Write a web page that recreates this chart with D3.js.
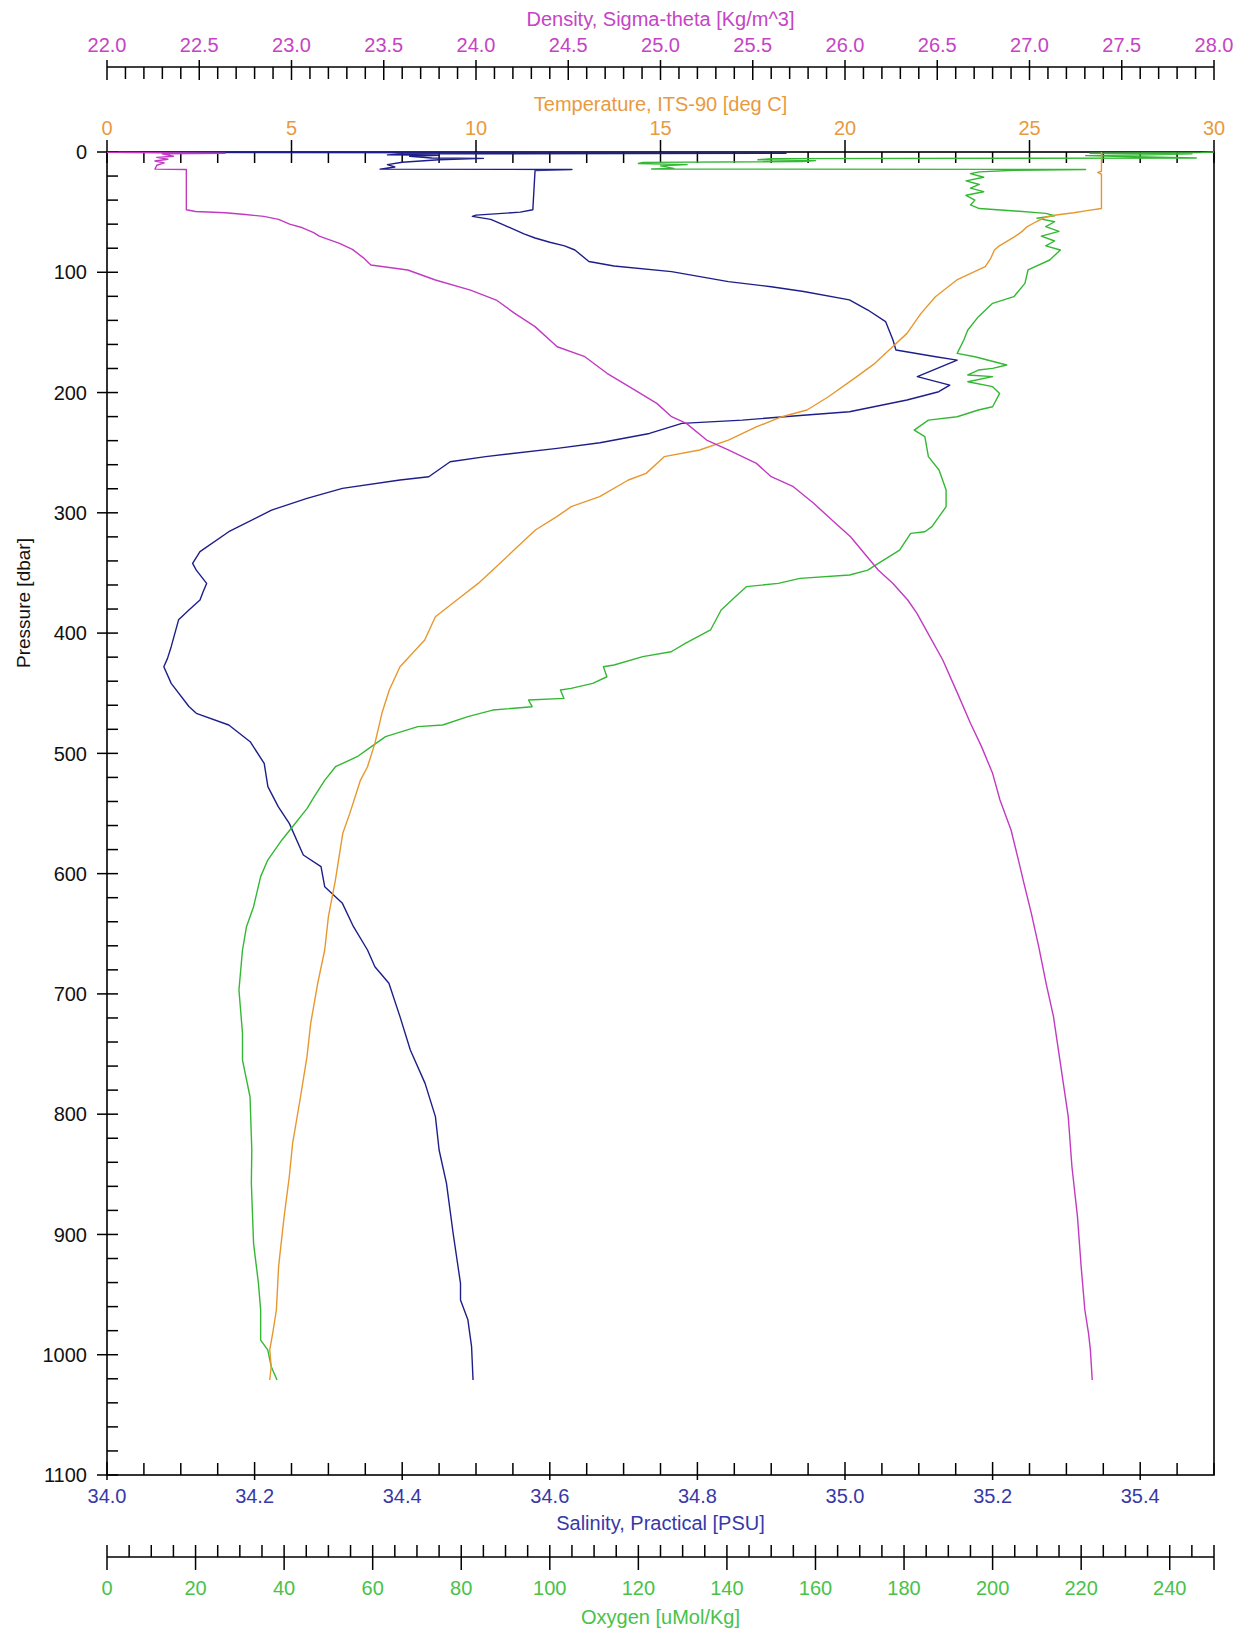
<!DOCTYPE html>
<html><head><meta charset="utf-8">
<script src="https://cdn.jsdelivr.net/npm/d3@7"></script>
<style>
body{margin:0;background:#fff;}
svg{display:block;}
text{font-family:"Liberation Sans",Arial,sans-serif;}
</style></head><body>
<svg id="c" width="1249" height="1630"></svg>
<script>
// ---------- tick labels ----------
const pressureTicks = d3.range(0, 1101, 100);
const densityTicks = d3.range(0, 13).map(i => 22 + i * 0.5);
const temperatureTicks = d3.range(0, 31, 5);
const salinityTicks = d3.range(0, 8).map(i => 34 + i * 0.2);
const oxygenTicks = d3.range(0, 241, 20);

// ---------- profiles [pressure dbar, value] ----------
const salinity = [[0.3,34.00],[1.0,34.92],[1.6,34.40],[2.4,34.38],[2.8,34.45],[3.6,34.41],[5.0,34.44],[5.3,34.51],[6.5,34.45],[8.5,34.40],[10.5,34.38],[12.5,34.39],[14.2,34.37],[14.6,34.63],[15.5,34.58],[48,34.577],[50,34.56],[52.5,34.50],[53.5,34.495],[56,34.52],[60,34.535],[64.5,34.552],[68,34.565],[71.5,34.58],[75,34.60],[78,34.62],[81.5,34.634],[91,34.653],[94.8,34.687],[99.5,34.765],[107.8,34.842],[112,34.90],[116,34.944],[123,35.006],[131.4,35.031],[141,35.055],[156.3,35.065],[164.6,35.069],[170.2,35.123],[173,35.152],[186.8,35.098],[193.8,35.142],[199.3,35.127],[206.2,35.084],[216,35.006],[218.7,34.948],[222.9,34.861],[225.6,34.779],[234,34.735],[241.7,34.668],[246.4,34.61],[253.3,34.513],[257.5,34.465],[270,34.436],[272.7,34.397],[279.7,34.319],[288,34.271],[297.7,34.223],[315.7,34.165],[332.3,34.126],[342,34.116],[347.6,34.121],[358.7,34.135],[366,34.13],[372.5,34.126],[380.8,34.111],[389,34.097],[411.3,34.087],[421,34.082],[428,34.077],[441.8,34.087],[461,34.111],[466.7,34.121],[476.4,34.165],[490.3,34.194],[508.3,34.213],[527.7,34.218],[544.3,34.232],[558.2,34.247],[584.5,34.266],[594.2,34.29],[610.9,34.295],[624.7,34.319],[644.1,34.334],[663.5,34.353],[677.4,34.363],[691.2,34.382],[718.9,34.397],[746.6,34.411],[774.4,34.431],[802,34.445],[829.8,34.45],[857.5,34.46],[899,34.469],[940.7,34.479],[954.5,34.479],[971,34.489],[993.3,34.494],[1021,34.496]];

const temperature = [[0,26.95],[16,26.95],[17,26.85],[18.5,26.95],[47,26.95],[48.5,26.6],[50.5,26.2],[52.4,25.72],[54,25.45],[58,25.18],[62,24.94],[66,24.8],[70.4,24.6],[78.7,24.15],[81.5,24.05],[88.4,23.95],[95.4,23.8],[106.4,23.03],[120.3,22.45],[134.2,22.06],[150.8,21.68],[161.9,21.29],[175.7,20.81],[186.8,20.32],[203.5,19.55],[214.5,18.97],[220.1,18.29],[228.4,17.61],[239.5,16.84],[247.8,16.06],[253.3,15.1],[267.2,14.61],[272.7,14.13],[286.6,13.35],[294.9,12.58],[303.2,12.19],[314.3,11.61],[331,11.03],[344.8,10.55],[358.7,10.06],[372.5,9.48],[386.4,8.9],[405.8,8.61],[428,7.94],[447.3,7.65],[466.7,7.45],[491.7,7.26],[511.1,7.06],[522.2,6.87],[549.9,6.58],[566.5,6.39],[585.9,6.29],[605.3,6.19],[635.8,6.0],[663.5,5.9],[691.2,5.71],[724.5,5.52],[752.2,5.42],[788.2,5.23],[824.3,5.03],[852,4.94],[885.2,4.8],[926.8,4.65],[962.8,4.59],[982.2,4.49],[996,4.41],[1010,4.45],[1021,4.41]];

const density = [[0.3,22.0],[1.0,22.64],[1.6,22.30],[2.5,22.33],[3.5,22.36],[4.5,22.27],[6,22.33],[7.5,22.26],[9,22.31],[11,22.27],[14.2,22.26],[14.6,22.43],[48,22.43],[49.5,22.48],[50.5,22.64],[52,22.75],[53.5,22.85],[56,22.93],[60,22.99],[63,23.06],[67,23.12],[70,23.15],[76,23.26],[81,23.33],[88,23.39],[94,23.43],[98.1,23.63],[106.4,23.78],[114.8,23.97],[123.1,24.11],[134.2,24.21],[145.2,24.32],[161.9,24.44],[170.2,24.59],[184,24.71],[195.1,24.83],[209,24.98],[220.1,25.06],[225.6,25.14],[239.5,25.25],[247.8,25.37],[258.9,25.52],[270,25.6],[278.3,25.72],[292.1,25.83],[308.8,25.95],[319.9,26.03],[336.5,26.12],[347.6,26.18],[358.7,26.26],[372.5,26.34],[383.6,26.39],[400.2,26.45],[422.4,26.53],[450.1,26.61],[475,26.68],[494.4,26.74],[516.6,26.8],[538.8,26.84],[563.7,26.9],[588.7,26.94],[608.1,26.97],[633,27.01],[660.7,27.05],[691.2,27.09],[718.9,27.13],[760.5,27.17],[802.1,27.21],[843.7,27.23],[885.2,27.26],[926.8,27.28],[962.8,27.30],[982.2,27.32],[996,27.33],[1021,27.34]];

const oxygen = [[0,250],[0.5,247],[1.0,222],[1.6,245],[2.4,236],[3.0,221],[4.0,232],[5.0,246],[5.5,150],[6.5,147],[7.2,160],[8.0,157],[8.6,121],[9.6,120],[10.5,131],[11.5,125],[13.6,128],[14.1,123],[14.5,221],[15.2,205],[16.5,197],[18,195],[21,198],[24,194],[27,197],[30,195],[33,198],[36,194],[40,196],[44,195],[47,197],[49,205],[51,212],[53,214],[55,210],[58,214],[62,212],[66,215],[70,211],[74,214],[78,212],[81.5,215.3],[89.8,212.9],[98.1,208],[109.2,207.3],[120.3,204.8],[125.8,200],[136.9,196.8],[148,194.4],[156.3,193.5],[167.4,192],[170.2,196],[177.1,203.2],[179.9,200],[181.3,196.8],[185.4,194.4],[186.8,200],[191,194.4],[195.1,200],[200.7,201.6],[211.8,200],[214.5,196.8],[220.1,192],[222.9,185.5],[231.2,182.3],[236.7,184.7],[253.3,185.5],[264.4,187.9],[281.1,189.5],[294.9,189.5],[303.2,187.9],[311.5,186.3],[315.7,184.7],[317.1,181.5],[331,179],[342,174.2],[347.6,171.8],[351.7,167.7],[354.5,156.5],[358.7,151.6],[361.4,144.4],[369.7,141.9],[380.8,138.7],[397.4,136.3],[408.5,130.6],[415.5,127.4],[419.6,121],[426.5,114.5],[428,112.1],[436.3,112.9],[441.8,109.7],[446,104.8],[447.3,102.4],[454.3,103.2],[455.6,95.2],[461.2,96],[464,87.1],[469.5,81.5],[476.4,75.8],[477.8,70.2],[486.1,62.9],[494.4,59.7],[502.8,56.5],[511.1,51.6],[522.2,49.2],[536,46.8],[545.7,45.2],[561,41.9],[572,39.5],[588.7,36.3],[602.5,34.7],[627.5,33.1],[644.1,31.5],[663.5,30.6],[696.8,29.8],[732.8,30.6],[755,30.6],[785.5,32.3],[829.8,32.7],[857.5,32.6],[907.4,33.1],[940.7,34.2],[962.8,34.7],[987.8,34.7],[996,36.3],[1010,37.1],[1021,38.4]];

// ---------- layout ----------
const L = 107, R = 1214, T = 152, B = 1475;
const col = {
  dens: "#C23AC2", densT: "#C544C5",
  temp: "#E8972F", tempT: "#E89A40",
  sal: "#1E1E8A", salT: "#3838A8",
  oxy: "#34B834", oxyT: "#48C248"
};

const svg = d3.select("#c");
const y = d3.scaleLinear().domain([0, 1100]).range([T, B]);
const xS = d3.scaleLinear().domain([34, 35.5]).range([L, R]);
const xT = d3.scaleLinear().domain([0, 30]).range([L, R]);
const xD = d3.scaleLinear().domain([22, 28]).range([L, R]);
const xO = d3.scaleLinear().domain([0, 250]).range([L, R]);

// frame
svg.append("rect").attr("x", L).attr("y", T).attr("width", R - L).attr("height", B - T)
  .attr("fill", "none").attr("stroke", "#000").attr("stroke-width", 1.6);

function hAxis(scale, lineY, drawLine, majors, minorStep, maj, min, labels, fmt, labY, color) {
  const g = svg.append("g");
  if (drawLine) g.append("line").attr("x1", L).attr("x2", R).attr("y1", lineY).attr("y2", lineY)
    .attr("stroke", "#000").attr("stroke-width", 1.6);
  const [d0, d1] = scale.domain();
  const n = Math.round((d1 - d0) / minorStep);
  for (let i = 0; i <= n; i++) {
    const v = d0 + i * minorStep;
    const isMaj = majors.some(m => Math.abs(m - v) < 1e-6);
    const t = isMaj ? maj : min;
    g.append("line").attr("x1", scale(v)).attr("x2", scale(v))
      .attr("y1", lineY + t[0]).attr("y2", lineY + t[1])
      .attr("stroke", "#000").attr("stroke-width", 1.5);
  }
  g.selectAll("text.tl").data(labels).join("text").attr("class", "tl")
    .attr("x", d => scale(d)).attr("y", labY).attr("text-anchor", "middle")
    .attr("fill", color).attr("font-size", 20).text(fmt);
}

// density axis (top)
hAxis(xD, 67, true, densityTicks, 0.1, [-7, 13], [0, 12], densityTicks, d => d.toFixed(1), 52, col.densT);
svg.append("text").attr("x", (L + R) / 2).attr("y", 26).attr("text-anchor", "middle")
  .attr("fill", col.densT).attr("font-size", 20).text("Density, Sigma-theta [Kg/m^3]");

// temperature axis (plot top)
hAxis(xT, T, false, temperatureTicks, 1, [-12, 11], [0, 11], temperatureTicks, d => d, 135, col.tempT);
svg.append("text").attr("x", (L + R) / 2).attr("y", 111).attr("text-anchor", "middle")
  .attr("fill", col.tempT).attr("font-size", 20).text("Temperature, ITS-90 [deg C]");

// salinity axis (plot bottom)
hAxis(xS, B, false, salinityTicks, 0.05, [-13, 5], [-12, 0], salinityTicks, d => d.toFixed(1), 1503, col.salT);
svg.append("text").attr("x", (L + R) / 2).attr("y", 1530).attr("text-anchor", "middle")
  .attr("fill", col.salT).attr("font-size", 20).text("Salinity, Practical [PSU]");

// oxygen axis (bottom)
hAxis(xO, 1557, true, oxygenTicks.concat([250]), 5, [-12, 13], [-12, 0], oxygenTicks, d => d, 1595, col.oxyT);
svg.append("text").attr("x", (L + R) / 2).attr("y", 1624).attr("text-anchor", "middle")
  .attr("fill", col.oxyT).attr("font-size", 20).text("Oxygen [uMol/Kg]");

// pressure axis (left)
const pg = svg.append("g");
d3.range(0, 1101, 20).forEach(p => {
  const maj = p % 100 === 0;
  pg.append("line").attr("x1", maj ? L - 10 : L).attr("x2", L + 11)
    .attr("y1", y(p)).attr("y2", y(p)).attr("stroke", "#000").attr("stroke-width", 1.5);
});
pg.selectAll("text").data(pressureTicks).join("text")
  .attr("x", 87).attr("y", d => y(d)).attr("dy", "0.36em").attr("text-anchor", "end")
  .attr("fill", "#111").attr("font-size", 20).text(d => d);
svg.append("text").attr("transform", "translate(30,603) rotate(-90)").attr("text-anchor", "middle")
  .attr("fill", "#111").attr("font-size", 19).text("Pressure [dbar]");

// ---------- profiles ----------
function profile(data, xs, color) {
  svg.append("path").datum(data)
    .attr("d", d3.line().x(d => xs(d[1])).y(d => y(d[0])))
    .attr("fill", "none").attr("stroke", color).attr("stroke-width", 1.4)
    .attr("stroke-linejoin", "round");
}
profile(salinity, xS, col.sal);
profile(oxygen, xO, col.oxy);
profile(temperature, xT, col.temp);
profile(density, xD, col.dens);
</script>
</body></html>
